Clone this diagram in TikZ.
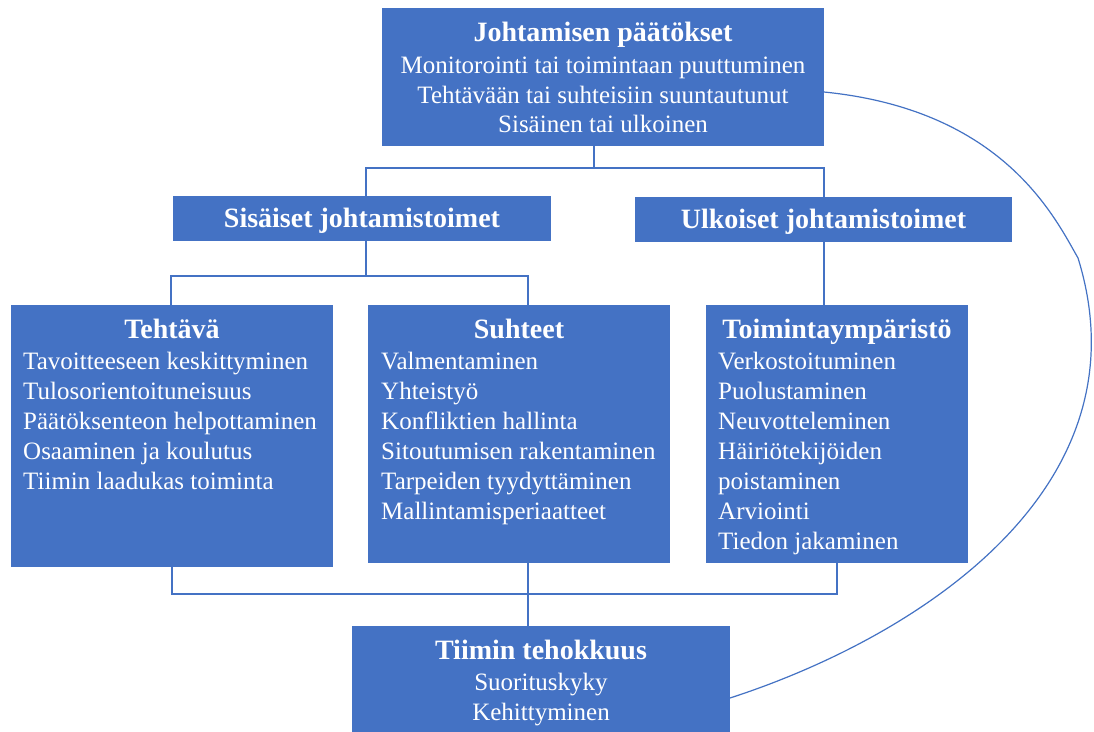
\documentclass[tikz,border=0pt]{standalone}
\usepackage{fontspec}
\setmainfont{Liberation Serif}
\definecolor{boxblue}{HTML}{4472C4}
\tikzset{
  box/.style={fill=boxblue, draw=none, inner sep=0pt, outer sep=0pt, anchor=north west},
  head/.style={text=white, font=\fontsize{28}{34}\selectfont\bfseries, inner sep=0pt, anchor=base},
  item/.style={text=white, font=\fontsize{25}{30}\selectfont, inner sep=0pt, anchor=base west},
  itemc/.style={item, anchor=base},
  conn/.style={draw=boxblue, line width=2.2pt},
  loopline/.style={draw=boxblue, line width=1.2pt},
}
\begin{document}
\begin{tikzpicture}[x=1pt,y=-1pt]
\clip (0,0) rectangle (1094,731);
\fill[white] (0,0) rectangle (1094,731);

% boxes
\node[box, minimum width=442pt, minimum height=138pt] (top) at (382,8) {};
\node[box, minimum width=378pt, minimum height=45pt]  (sis) at (173,196) {};
\node[box, minimum width=377pt, minimum height=45pt]  (ulk) at (635,197) {};
\node[box, minimum width=322pt, minimum height=262pt] (teh) at (11,305) {};
\node[box, minimum width=302pt, minimum height=258pt] (suh) at (368,305) {};
\node[box, minimum width=262pt, minimum height=258pt] (toi) at (706,305) {};
\node[box, minimum width=378pt, minimum height=130pt] (tii) at (352,626) {};

% top box text
\node[head]  (top-h) at (603,41)  {Johtamisen päätökset};
\node[itemc] (top-1) at (603,73)  {Monitorointi tai toimintaan puuttuminen};
\node[itemc] (top-2) at (603,103) {Tehtävään tai suhteisiin suuntautunut};
\node[itemc] (top-3) at (603,132) {Sisäinen tai ulkoinen};

% second level
\node[head] (sis-h) at (362,227) {Sisäiset johtamistoimet};
\node[head] (ulk-h) at (823.5,228) {Ulkoiset johtamistoimet};

% third level
\node[head] (teh-h) at (172,338) {Tehtävä};
\foreach \t [count=\i] in {Tavoitteeseen keskittyminen, Tulosorientoituneisuus,
  Päätöksenteon helpottaminen, Osaaminen ja koulutus, Tiimin laadukas toiminta}
  \node[item] (teh-\i) at (23,{339+30*\i}) {\t};

\node[head] (suh-h) at (519,338) {Suhteet};
\foreach \t [count=\i] in {Valmentaminen, Yhteistyö, Konfliktien hallinta,
  Sitoutumisen rakentaminen, Tarpeiden tyydyttäminen, Mallintamisperiaatteet}
  \node[item] (suh-\i) at (381,{339+30*\i}) {\t};

\node[head] (toi-h) at (837,338) {Toimintaympäristö};
\foreach \t [count=\i] in {Verkostoituminen, Puolustaminen, Neuvotteleminen,
  Häiriötekijöiden, poistaminen, Arviointi, Tiedon jakaminen}
  \node[item] (toi-\i) at (718,{339+30*\i}) {\t};

% bottom box text
\node[head]  (tii-h) at (541,659) {Tiimin tehokkuus};
\node[itemc] (tii-1) at (541,690) {Suorituskyky};
\node[itemc] (tii-2) at (541,720) {Kehittyminen};

% junction points of the connectors
\coordinate (ja) at (594,168);
\coordinate (jal) at (366,168);
\coordinate (jar) at (824,168);
\coordinate (jb) at (366,276);
\coordinate (jbl) at (171,276);
\coordinate (jbr) at (528,276);
\coordinate (jc) at (528,594);
\coordinate (jcl) at (172,594);
\coordinate (jcr) at (837,594);

\draw[conn] (ja |- top.south) -- (ja);
\draw[conn] (jal |- sis.north) -- (jal) -- (jar) -- (jar |- ulk.north);
\draw[conn] (jb |- sis.south) -- (jb);
\draw[conn] (jbl |- teh.north) -- (jbl) -- (jbr) -- (jbr |- suh.north);
\draw[conn] (jar |- ulk.south) -- (jar |- toi.north);
\draw[conn] (jcl |- teh.south) -- (jcl) -- (jcr) -- (jcr |- toi.south);
\draw[conn] (jc |- suh.south) -- (jc |- tii.north);

% feedback loop from the outcome back to the decisions
\coordinate (cs) at ([yshift=-15pt]top.east);
\coordinate (ck) at (1078,258);
\coordinate (ce) at ([yshift=-7pt]tii.east);
\draw[loopline] (cs) .. controls (1004,110) and (1055,218) .. (ck)
  .. controls (1150,490) and (915,638) .. (ce);
\end{tikzpicture}
\end{document}
